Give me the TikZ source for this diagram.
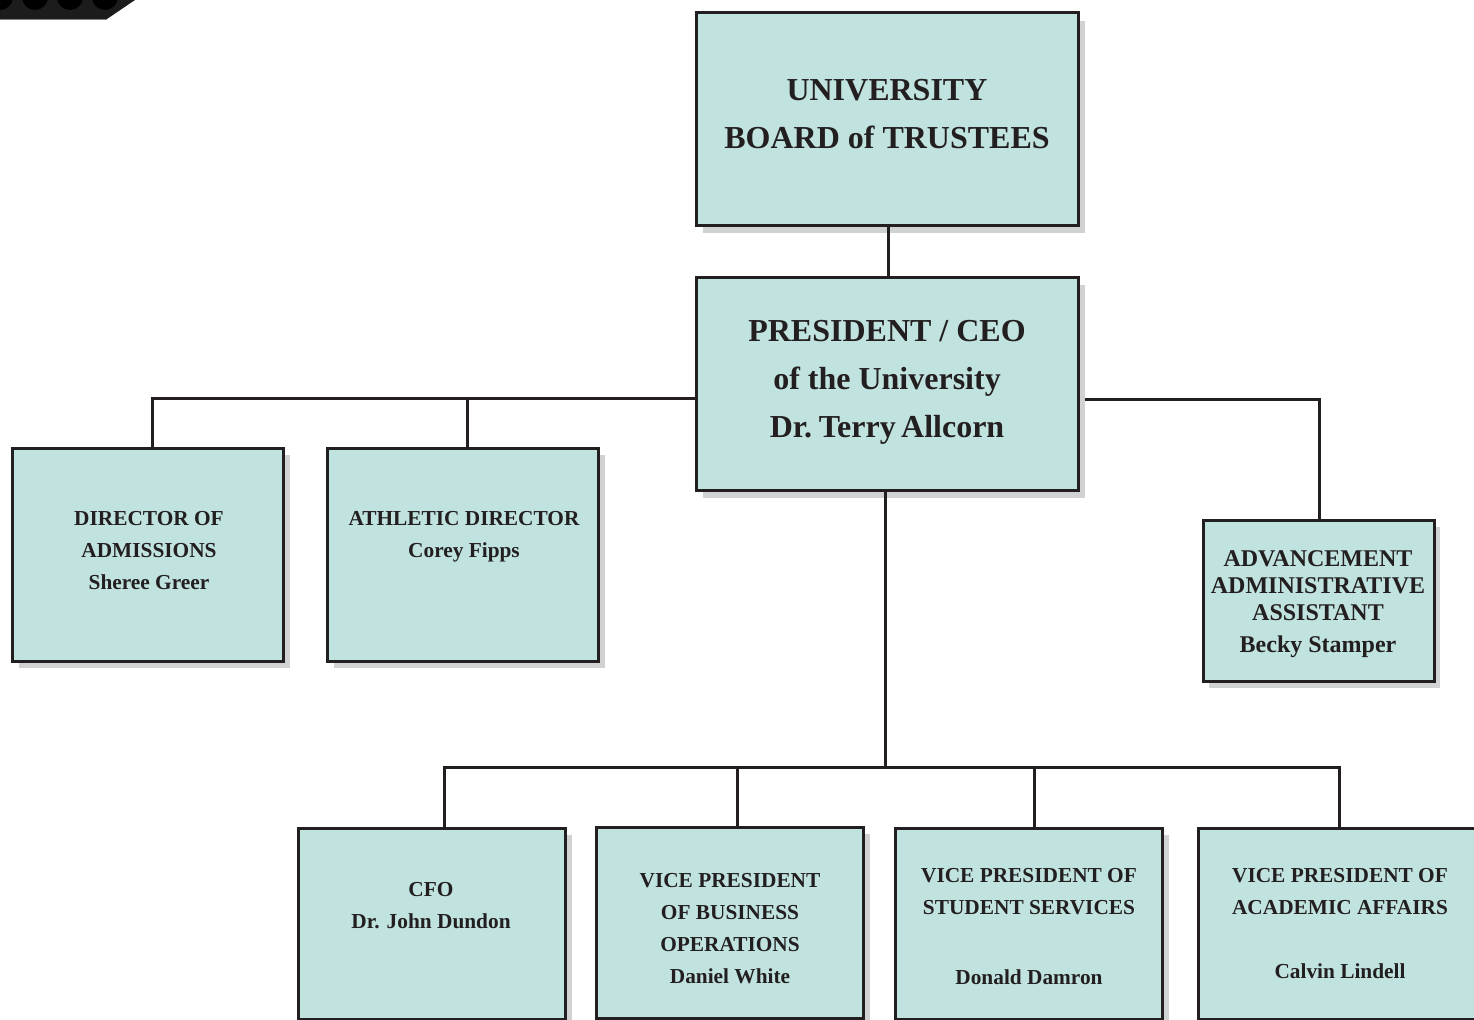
\documentclass[tikz,border=0pt]{standalone}
\usepackage{fontspec}
\setmainfont{Liberation Serif}
\usetikzlibrary{shadows,calc}
\pgfdeclarelayer{bg}
\pgfsetlayers{bg,main}
\definecolor{boxfill}{HTML}{C1E3DF}
\definecolor{ink}{HTML}{231F20}
\definecolor{shade}{HTML}{D1D2D4}
\definecolor{corner}{HTML}{1C1C1C}
\tikzset{
  x=0.75pt,y=-0.75pt,
  orgbox/.style={draw=ink,fill=boxfill,line width=2.25pt,inner sep=0pt,minimum width=#1},
  bigshadow/.style={drop shadow={shadow xshift=5.25pt,shadow yshift=-6pt,fill=shade,opacity=1}},
  smallshadow/.style={drop shadow={shadow xshift=4.5pt,shadow yshift=-5.2pt,fill=shade,opacity=1}},
  link/.style={draw=ink,line width=2.25pt},
  bigtext/.style={text=ink,anchor=base,inner sep=0pt,align=center,font=\fontsize{24pt}{36pt}\selectfont\bfseries},
  smalltext/.style={text=ink,anchor=base,inner sep=0pt,align=center,font=\fontsize{16pt}{24pt}\selectfont\bfseries},
  advtext/.style={text=ink,anchor=base,inner sep=0pt,align=center,font=\fontsize{18pt}{20.25pt}\selectfont\bfseries},
}
\begin{document}
\begin{tikzpicture}
\useasboundingbox (0,0) rectangle (1474,1020);
\clip (0,0) rectangle (1474,1020);
% corner fragment
\fill[corner] (0,0) -- (135,0) -- (107,19) -- (0,19) -- cycle;
\draw[gray,line width=.5pt] (0,19.3) -- (107,19.3);
\foreach \cx in {0,35,70,105} \fill[black] (\cx,-3) circle[radius=13];
% boxes
\node[orgbox=382*0.75pt,minimum height=159pt,bigshadow] (board) at (887,119) {};
\node[orgbox=382*0.75pt,minimum height=159.75pt,bigshadow] (pres) at (887,383.5) {};
\node[orgbox=271*0.75pt,minimum height=159.75pt,smallshadow] (adm) at (148,554.5) {};
\node[orgbox=271*0.75pt,minimum height=159.75pt,smallshadow] (ath) at (463,554.5) {};
\node[orgbox=231*0.75pt,minimum height=120.75pt,smallshadow] (adv) at (1318.5,600.5) {};
\node[orgbox=267*0.75pt,minimum height=143.25pt,smallshadow] (cfo) at (432,923.5) {};
\node[orgbox=267*0.75pt,minimum height=143.25pt,smallshadow] (biz) at (730,922.5) {};
\node[orgbox=267*0.75pt,minimum height=143.25pt,smallshadow] (stu) at (1029,923.5) {};
\node[orgbox=290*0.75pt,minimum height=143.25pt] (aca) at (1343,923.5) {};
% connector positions
\coordinate (topx) at (888,0);
\coordinate (leftbus) at (152,398);
\coordinate (athx) at (467,398);
\coordinate (rightbus) at (1319,399);
\coordinate (trunk) at (885,767);
\coordinate (busa) at (444,767);
\coordinate (busb) at (737,767);
\coordinate (busc) at (1034,767);
\coordinate (busd) at (1339,767);
% connectors
\begin{pgfonlayer}{bg}
\draw[link] (pres.east |- rightbus) -- (rightbus) -- (adv.north -| rightbus);
\end{pgfonlayer}
\draw[link] (board.south -| topx) -- (pres.north -| topx);
\draw[link] (pres.west |- leftbus) -- (leftbus) -- (adm.north -| leftbus);
\draw[link] (athx) -- (ath.north -| athx);
\draw[link] (pres.south -| trunk) -- (trunk);
\draw[link] (cfo.north -| busa) -- (busa) -- (busd) -- (aca.north -| busd);
\draw[link] (busb) -- (biz.north -| busb);
\draw[link] (busc) -- (stu.north -| busc);
% labels
\node[bigtext] (tboard) at (887,149) {UNIVERSITY\\BOARD of TRUSTEES};
\node[bigtext] (tpres) at (887,437) {PRESIDENT / CEO\\of the University\\Dr.\hspace{-3pt} Terry\hspace{-2pt} Allcorn};
\node[smalltext] (tadm) at (149,589) {DIRECTOR OF\\ADMISSIONS\\Sheree Greer};
\node[smalltext] (tath) at (464,557) {ATHLETIC DIRECTOR\\Corey Fipps};
\node[advtext] (tadv) at (1318,652) {ADVANCEMENT\\ADMINISTRATIVE\\ASSISTANT\\[3.75pt]Becky Stamper};
\node[smalltext] (tcfo) at (431,928) {CFO\\Dr. John Dundon};
\node[smalltext] (tbiz) at (730,983) {VICE PRESIDENT\\OF BUSINESS\\OPERATIONS\\Daniel White};
\node[smalltext] (tstu) at (1029,984) {VICE PRESIDENT OF\\STUDENT SERVICES\\[28.5pt]Donald Damron};
\node[smalltext] (taca) at (1340,978) {VICE PRESIDENT OF\\ACADEMIC AFFAIRS\\[24pt]Calvin Lindell};
\end{tikzpicture}
\end{document}
